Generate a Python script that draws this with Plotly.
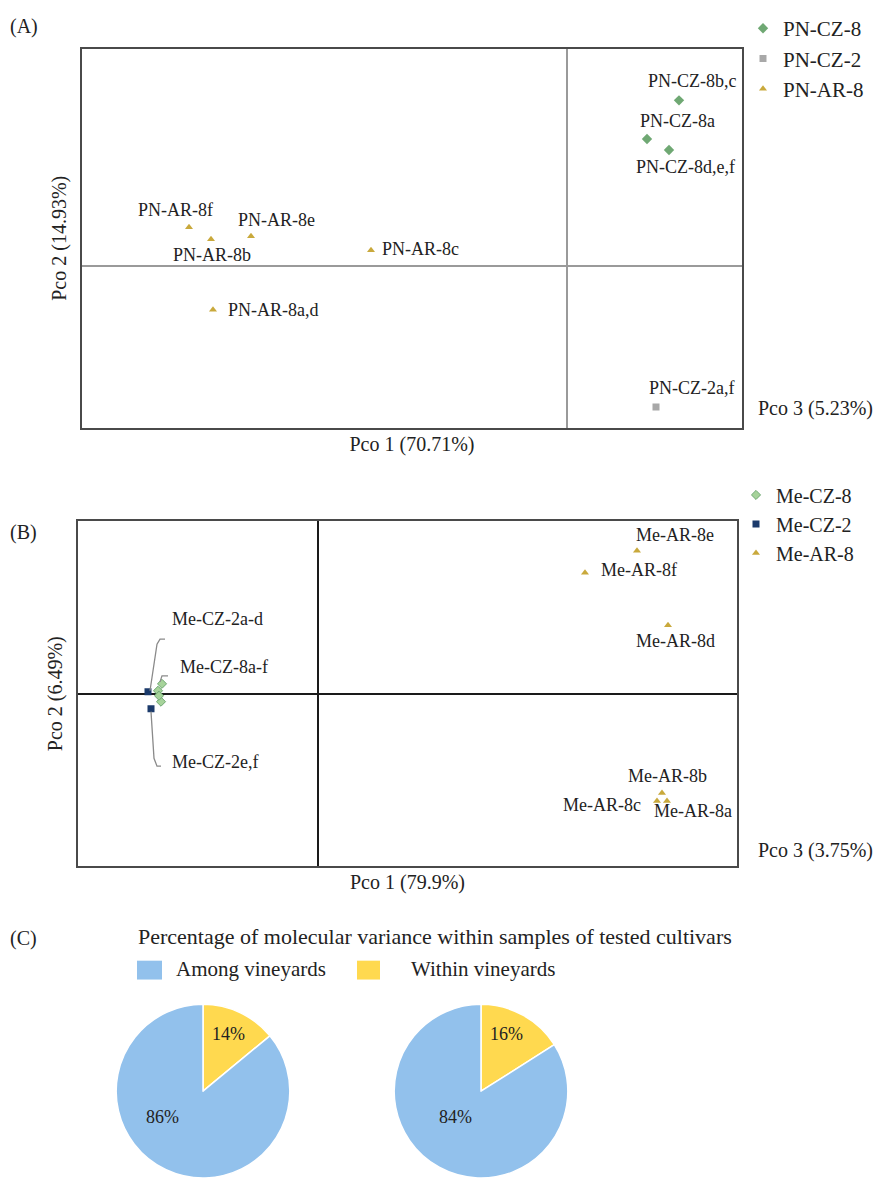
import plotly.graph_objects as go

# page body has an 8px margin; figure is sized so it fills the window exactly
OFF = 8
W, H = 875, 1170
FONT = "Liberation Serif"

# ---------------- data ----------------
# Panel A (PCoA, Pinot Noir)
pn_cz8_x = [1.12, 0.80, 1.02]
pn_cz8_y = [1.67, 1.28, 1.17]
pn_cz8_lab = ["PN-CZ-8b,c", "PN-CZ-8a", "PN-CZ-8d,e,f"]

pn_cz2_x = [0.89]
pn_cz2_y = [-1.42]
pn_cz2_lab = ["PN-CZ-2a,f"]

pn_ar8_x = [-3.78, -3.56, -3.16, -1.96, -3.54]
pn_ar8_y = [0.39, 0.27, 0.30, 0.16, -0.44]
pn_ar8_lab = ["PN-AR-8f", "PN-AR-8b", "PN-AR-8e", "PN-AR-8c", "PN-AR-8a,d"]

# Panel B (PCoA, Merlot)
me_cz8_x = [-1.56, -1.60, -1.57, -1.59]
me_cz8_y = [0.10, 0.03, -0.08, -0.02]
me_cz8_lab = ["Me-CZ-8a-f"]

me_cz2_x = [-1.70, -1.67]
me_cz2_y = [0.02, -0.15]
me_cz2_lab = ["Me-CZ-2a-d", "Me-CZ-2e,f"]

me_ar8_x = [3.19, 2.67, 3.50, 3.44, 3.39, 3.49]
me_ar8_y = [1.44, 1.22, 0.69, -1.00, -1.08, -1.08]
me_ar8_lab = ["Me-AR-8e", "Me-AR-8f", "Me-AR-8d", "Me-AR-8b", "Me-AR-8c", "Me-AR-8a"]

# Panel C (AMOVA)
amova_labels = ["Within vineyards", "Among vineyards"]
amova_left = [14, 86]
amova_right = [16, 84]

axis_titles = {
    "a_x": "Pco 1 (70.71%)", "a_y": "Pco 2 (14.93%)", "a_z": "Pco 3 (5.23%)",
    "b_x": "Pco 1 (79.9%)", "b_y": "Pco 2 (6.49%)", "b_z": "Pco 3 (3.75%)",
}
panel_c_title = "Percentage of molecular variance within samples of tested cultivars"

# ---------------- styles ----------------
GOLD = "#C9A93C"
GREEN = "#6FA873"
GREY = "#A8A8A8"
NAVY = "#1B3A6B"
BLUE = "#92C1EC"
YELLOW = "#FFD94F"
TXT = "#222222"


def px(x):
    return (x - OFF) / W


def py(y):
    return 1 - (y - OFF) / H


fig = go.Figure()

# Panel A traces
fig.add_trace(go.Scatter(x=pn_cz8_x, y=pn_cz8_y, mode="markers", name="PN-CZ-8",
                         marker=dict(symbol="diamond", size=8, color=GREEN),
                         xaxis="x", yaxis="y", legend="legend"))
fig.add_trace(go.Scatter(x=pn_cz2_x, y=pn_cz2_y, mode="markers", name="PN-CZ-2",
                         marker=dict(symbol="square", size=7, color=GREY),
                         xaxis="x", yaxis="y", legend="legend"))
fig.add_trace(go.Scatter(x=pn_ar8_x, y=pn_ar8_y, mode="markers", name="PN-AR-8",
                         marker=dict(symbol="triangle-up", size=7, color=GOLD),
                         xaxis="x", yaxis="y", legend="legend"))

# Panel B traces
fig.add_trace(go.Scatter(x=me_cz8_x, y=me_cz8_y, mode="markers", name="Me-CZ-8",
                         marker=dict(symbol="diamond", size=7, color="#A6D39A",
                                     line=dict(color=GREEN, width=1)),
                         xaxis="x2", yaxis="y2", legend="legend2"))
fig.add_trace(go.Scatter(x=me_cz2_x, y=me_cz2_y, mode="markers", name="Me-CZ-2",
                         marker=dict(symbol="square", size=7, color=NAVY),
                         xaxis="x2", yaxis="y2", legend="legend2"))
fig.add_trace(go.Scatter(x=me_ar8_x, y=me_ar8_y, mode="markers", name="Me-AR-8",
                         marker=dict(symbol="triangle-up", size=7, color=GOLD),
                         xaxis="x2", yaxis="y2", legend="legend2"))

# Panel C pies
pie_common = dict(
    labels=amova_labels, sort=False, direction="clockwise", rotation=0,
    marker=dict(colors=[YELLOW, BLUE], line=dict(color="white", width=1.5)),
    textinfo="none", showlegend=False, hoverinfo="label+percent",
)
fig.add_trace(go.Pie(values=amova_left, domain=dict(x=[px(115), px(291)], y=[0, py(1003)]), **pie_common))
fig.add_trace(go.Pie(values=amova_right, domain=dict(x=[px(393), px(569)], y=[0, py(1003)]), **pie_common))


# ---------------- axes ----------------
def ax(domain, rng, title, zcolor, standoff, anchor):
    return dict(domain=domain, range=rng, anchor=anchor, showgrid=False, zeroline=True,
                zerolinecolor=zcolor, zerolinewidth=2, showline=True, mirror=True,
                linecolor="#4a4a4a", linewidth=2, showticklabels=False, ticks="",
                fixedrange=True,
                title=dict(text=title, font=dict(family=FONT, size=20, color=TXT), standoff=standoff))


fig.update_layout(
    width=W, height=H, margin=dict(l=0, r=0, t=0, b=0),
    paper_bgcolor="white", plot_bgcolor="white",
    font=dict(family=FONT, color=TXT),
    xaxis=ax([px(82), px(742)], [-4.85, 1.75], axis_titles["a_x"], "#9a9a9a", 8, "y"),
    yaxis=ax([py(422), py(40)], [-1.63, 2.19], axis_titles["a_y"], "#9a9a9a", 8, "x"),
    xaxis2=ax([px(78), px(737)], [-2.40, 4.19], axis_titles["b_x"], "#1a1a1a", 8, "y2"),
    yaxis2=ax([py(864), py(516)], [-1.74, 1.74], axis_titles["b_y"], "#1a1a1a", 8, "x2"),
    legend=dict(x=px(743), y=py(-1), xanchor="left", yanchor="top", bgcolor="rgba(0,0,0,0)",
                font=dict(family=FONT, size=21, color=TXT), itemwidth=30),
    legend2=dict(x=px(736), y=py(470), xanchor="left", yanchor="top", bgcolor="rgba(0,0,0,0)",
                 font=dict(family=FONT, size=20, color=TXT), itemwidth=30),
)

# ---------------- annotations ----------------
ann = []
lab_font = dict(family=FONT, size=18, color=TXT)


def label(xref, yref, x, y, text, xs, ys, xanchor="center"):
    ann.append(dict(xref=xref, yref=yref, x=x, y=y, text=text, showarrow=False,
                    xshift=xs, yshift=ys, xanchor=xanchor, yanchor="middle", font=lab_font))


def paper_text(x, y, text, size, xanchor="left"):
    ann.append(dict(xref="paper", yref="paper", x=px(x), y=py(y), text=text, showarrow=False,
                    xanchor=xanchor, yanchor="middle", font=dict(family=FONT, size=size, color=TXT)))


# Panel A labels
a_shifts_cz8 = [(13, 19, "center"), (30, 18, "center"), (16, -17, "center")]
for xv, yv, t, (xs, ys, xa) in zip(pn_cz8_x, pn_cz8_y, pn_cz8_lab, a_shifts_cz8):
    label("x", "y", xv, yv, t, xs, ys, xa)
label("x", "y", pn_cz2_x[0], pn_cz2_y[0], pn_cz2_lab[0], 35, 19)
a_shifts_ar8 = [(-14, 17, "center"), (1, -16, "center"), (25, 16, "center"),
                (9, 1, "left"), (13, 0, "left")]
for xv, yv, t, (xs, ys, xa) in zip(pn_ar8_x, pn_ar8_y, pn_ar8_lab, a_shifts_ar8):
    label("x", "y", xv, yv, t, xs, ys, xa)

# Panel B labels
b_shifts_ar8 = [(38, 16, "center"), (14, 3, "left"), (7, -16, "center"),
                (5, 17, "center"), (-14, -4, "right"), (26, -10, "center")]
for xv, yv, t, (xs, ys, xa) in zip(me_ar8_x, me_ar8_y, me_ar8_lab, b_shifts_ar8):
    label("x2", "y2", xv, yv, t, xs, ys, xa)
label("x2", "y2", me_cz2_x[0], me_cz2_y[0], me_cz2_lab[0], 69, 73)
label("x2", "y2", me_cz2_x[1], me_cz2_y[1], me_cz2_lab[1], 64, -53)
label("x2", "y2", me_cz8_x[0], me_cz8_y[0], me_cz8_lab[0], 62, 17)

# Pco 3 labels
paper_text(875, 403, axis_titles["a_z"], 20, "right")
paper_text(875, 848, axis_titles["b_z"], 20, "right")

# Panel letters
for t, yy in [("(A)", 18), ("(B)", 527), ("(C)", 937)]:
    paper_text(8, yy, t, 20)

# Panel C title, legend, pie percentages
paper_text(136, 935, panel_c_title, 22)
paper_text(174, 967, amova_labels[1], 21)
paper_text(409, 967, amova_labels[0], 21)
paper_text(228, 1033, f"{amova_left[0]}%", 18, "center")
paper_text(162, 1117, f"{amova_left[1]}%", 18, "center")
paper_text(506, 1033, f"{amova_right[0]}%", 18, "center")
paper_text(455, 1117, f"{amova_right[1]}%", 18, "center")

shapes = [
    dict(type="rect", xref="paper", yref="paper", x0=px(137), x1=px(162), y0=py(978), y1=py(959),
         fillcolor=BLUE, line=dict(width=0)),
    dict(type="rect", xref="paper", yref="paper", x0=px(357), x1=px(380), y0=py(978), y1=py(959),
         fillcolor=YELLOW, line=dict(width=0)),
    # bracket leaders in panel B
    dict(type="path", xref="x2", yref="y2", path="M -1.68,0.03 L -1.61,0.50 L -1.58,0.55 L -1.53,0.55",
         line=dict(color="#8a8a8a", width=1.3)),
    dict(type="path", xref="x2", yref="y2", path="M -1.58,0.12 L -1.56,0.18 L -1.50,0.18",
         line=dict(color="#8a8a8a", width=1.3)),
    dict(type="path", xref="x2", yref="y2", path="M -1.67,-0.18 L -1.64,-0.65 L -1.61,-0.73 L -1.57,-0.73",
         line=dict(color="#8a8a8a", width=1.3)),
]

fig.update_layout(annotations=ann, shapes=shapes)

fig.write_html("out.html")
